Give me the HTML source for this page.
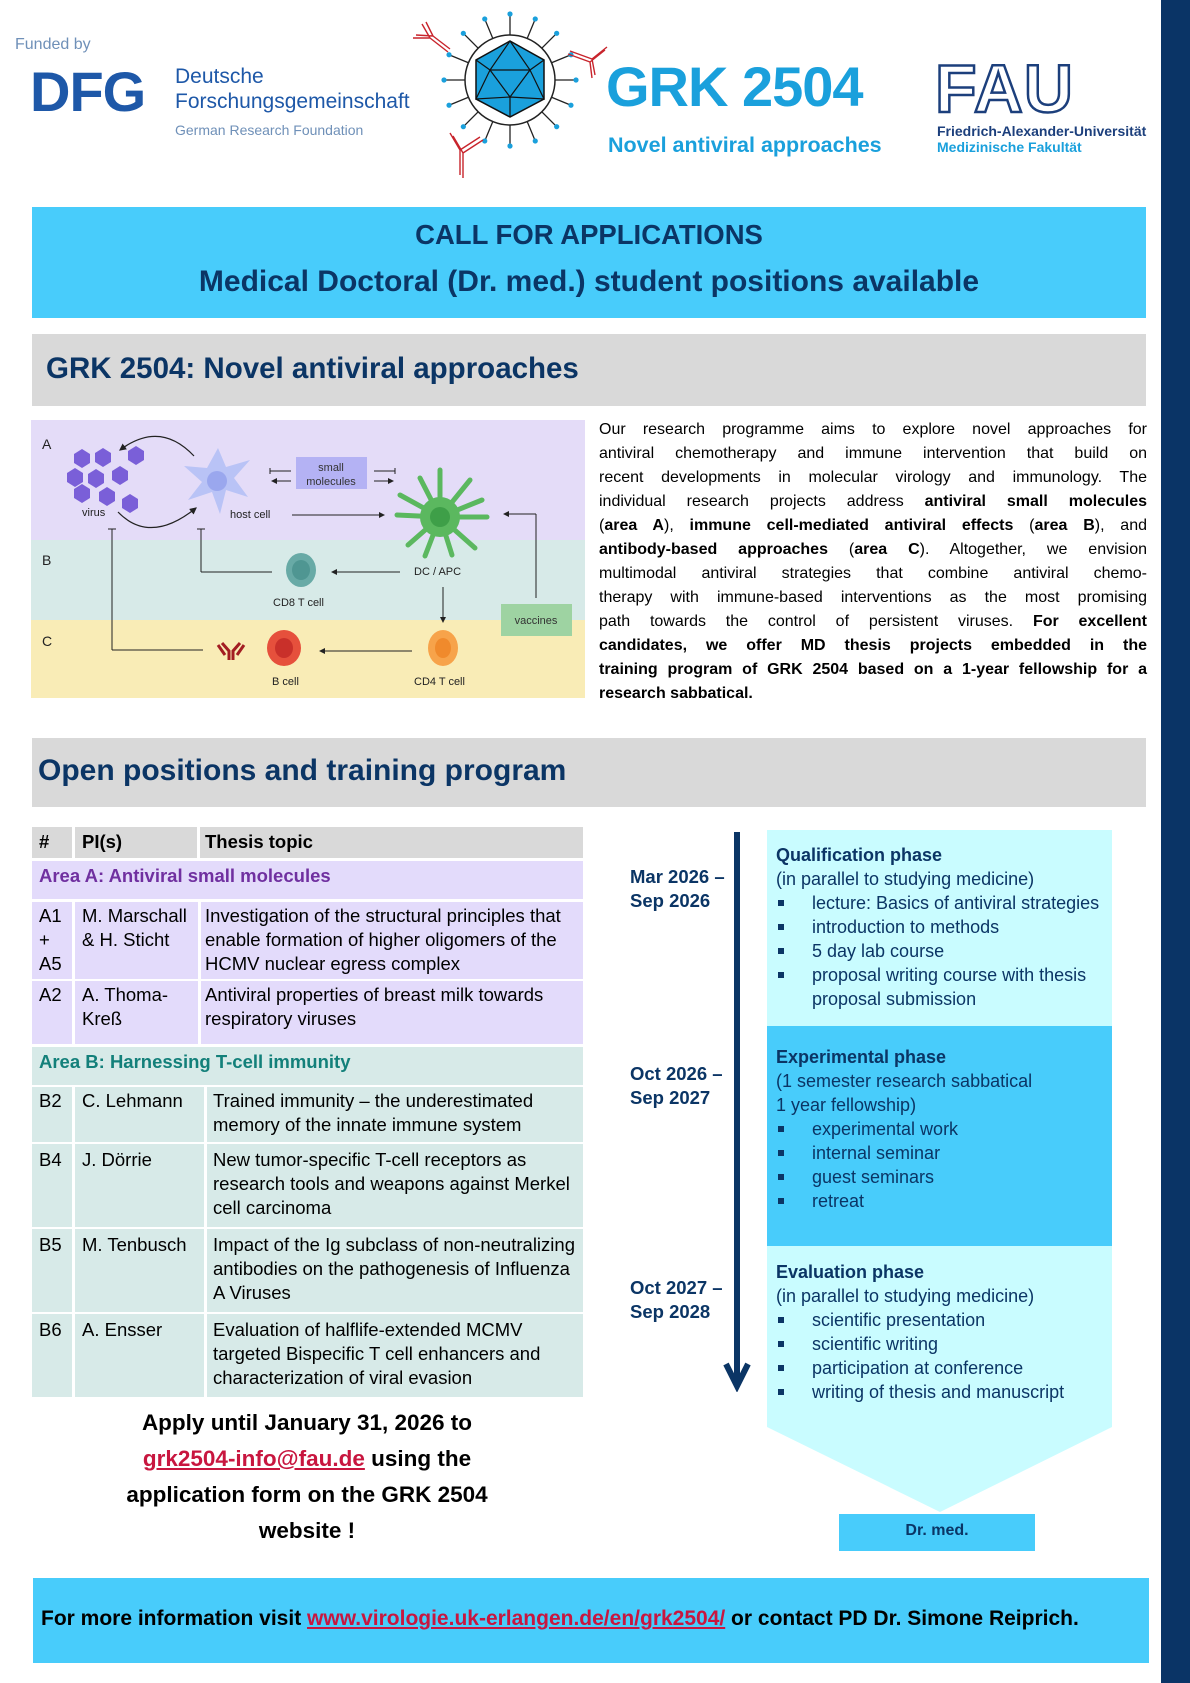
<!DOCTYPE html>
<html><head><meta charset="utf-8">
<style>
*{margin:0;padding:0;box-sizing:border-box}
body{width:1190px;height:1683px;position:relative;background:#fff;font-family:"Liberation Sans",sans-serif;color:#000;overflow:hidden}
.a{position:absolute;white-space:nowrap}
.navy{color:#0b3565}
.b{font-weight:bold}
.row{position:absolute;left:32px;width:551px}
.c{position:absolute;top:0;bottom:0;border-right:3px solid #fff}
.t{position:absolute;font-size:18.5px;line-height:24px;white-space:nowrap}
.pl{position:absolute;left:599px;width:548px;font-size:16px;line-height:24px;text-align:justify;text-align-last:justify;white-space:nowrap;height:24px;overflow:visible}
.ph{position:absolute;left:776px;font-size:18px;line-height:24px;color:#0b3565;white-space:nowrap}
.bl{position:absolute;left:778px;width:6px;height:6px;background:#0b3565}
</style></head><body>

<div style="position:absolute;left:1161px;top:0;width:29px;height:1683px;background:#0a3466"></div>

<!-- DFG logo -->
<div class="a" style="left:15px;top:36px;font-size:16px;color:#6f90b8">Funded by</div>
<div class="a" style="left:30px;top:64px;font-size:56px;font-weight:bold;color:#1e58a8;letter-spacing:-1px;line-height:56px">DFG</div>
<div class="a" style="left:175px;top:64px;font-size:21px;color:#1e58a8;line-height:25px">Deutsche<br>Forschungsgemeinschaft</div>
<div class="a" style="left:175px;top:122px;font-size:14px;color:#6f90b8">German Research Foundation</div>

<!-- virus logo -->
<svg style="position:absolute;left:380px;top:0" width="230" height="180" viewBox="380 0 230 180">
<g stroke="#222" stroke-width="1.3" fill="#1aa0dc">
<g id="sp">
<line x1="510" y1="35" x2="510" y2="14"/><circle cx="510" cy="14" r="2.6" stroke="none"/>
</g>
<use href="#sp" transform="rotate(22.5 510 80)"/><use href="#sp" transform="rotate(45 510 80)"/><use href="#sp" transform="rotate(67.5 510 80)"/>
<use href="#sp" transform="rotate(90 510 80)"/><use href="#sp" transform="rotate(112.5 510 80)"/><use href="#sp" transform="rotate(135 510 80)"/><use href="#sp" transform="rotate(157.5 510 80)"/>
<use href="#sp" transform="rotate(180 510 80)"/><use href="#sp" transform="rotate(202.5 510 80)"/><use href="#sp" transform="rotate(225 510 80)"/><use href="#sp" transform="rotate(247.5 510 80)"/>
<use href="#sp" transform="rotate(270 510 80)"/><use href="#sp" transform="rotate(292.5 510 80)"/><use href="#sp" transform="rotate(315 510 80)"/><use href="#sp" transform="rotate(337.5 510 80)"/>
</g>
<circle cx="510" cy="80" r="45" fill="#fff" stroke="#222" stroke-width="1.5"/>
<polygon points="510,41 544,60 544,99 510,117 476,99 476,60" fill="#1aa0dc" stroke="#111" stroke-width="1.5"/>
<g stroke="#111" stroke-width="1.2" fill="none">
<polyline points="510,41 490,70 476,99 510,97 544,99 530,70 510,41"/>
<line x1="490" y1="70" x2="530" y2="70"/><line x1="490" y1="70" x2="510" y2="97"/><line x1="530" y1="70" x2="510" y2="97"/><line x1="510" y1="97" x2="510" y2="117"/><line x1="476" y1="60" x2="490" y2="70"/><line x1="544" y1="60" x2="530" y2="70"/>
</g>
<g stroke="#c8242c" stroke-width="1.4" fill="none">
<path d="M448 52 L430 38 M430 38 L413 38 M430 38 L422 24 M450 49 L433 36 M433 36 L416 35 M433 36 L426 22"/>
<path d="M568 54 L590 62 M590 62 L605 50 M590 62 L592 78 M570 51 L592 59 M592 59 L607 47 M592 59 L595 75"/>
<path d="M480 137 L460 150 M460 150 L460 175 M460 150 L450 133 M483 140 L463 153 M463 153 L463 178 M463 153 L453 136"/>
</g>
</svg>
<div class="a" style="left:606px;top:52px;font-size:56px;font-weight:bold;color:#1aa0dc;line-height:70px;letter-spacing:-1px">GRK 2504</div>
<div class="a" style="left:608px;top:133px;font-size:21.5px;font-weight:bold;color:#1aa0dc">Novel antiviral approaches</div>

<!-- FAU -->
<div class="a" style="left:935px;top:58px;font-size:68px;font-weight:bold;color:#fff;-webkit-text-stroke:2.5px #1c3f7c;line-height:62px;letter-spacing:1px">FAU</div>
<div class="a" style="left:937px;top:123px;font-size:14px;font-weight:bold;color:#1c3f7c">Friedrich-Alexander-Universität</div>
<div class="a" style="left:937px;top:139px;font-size:14px;font-weight:bold;color:#1aa0dc">Medizinische Fakultät</div>

<!-- call box -->
<div style="position:absolute;left:32px;top:207px;width:1114px;height:111px;background:#48ccfb"></div>
<div class="a navy b" style="left:32px;width:1114px;text-align:center;top:219px;font-size:27.5px">CALL FOR APPLICATIONS</div>
<div class="a navy b" style="left:32px;width:1114px;text-align:center;top:265px;font-size:30px">Medical Doctoral (Dr. med.) student positions available</div>

<!-- header 1 -->
<div style="position:absolute;left:32px;top:334px;width:1114px;height:72px;background:#d9d9d9"></div>
<div class="a navy b" style="left:46px;top:352px;font-size:29.5px">GRK 2504: Novel antiviral approaches</div>

<!-- figure -->
<svg style="position:absolute;left:31px;top:420px" width="554" height="278" viewBox="31 420 554 278" font-family="Liberation Sans, sans-serif" font-size="11">
<defs><marker id="ar" markerWidth="6" markerHeight="6" refX="5" refY="3" orient="auto"><path d="M0,0 L6,3 L0,6z" fill="#222"/></marker></defs>
<rect x="31" y="420" width="554" height="120" fill="#e4dcf8"/>
<rect x="31" y="540" width="554" height="80" fill="#d7eae8"/>
<rect x="31" y="620" width="554" height="78" fill="#f9ecb6"/>
<g font-size="14" fill="#222"><text x="42" y="449">A</text><text x="42" y="565">B</text><text x="42" y="646">C</text></g>
<g fill="#7a5fd8">
<polygon points="82,449 90,454 90,463 82,468 74,463 74,454"/>
<polygon points="103,448 111,453 111,462 103,467 95,462 95,453"/>
<polygon points="136,446 144,451 144,460 136,465 128,460 128,451"/>
<polygon points="75,468 83,473 83,482 75,487 67,482 67,473"/>
<polygon points="96,469 104,474 104,483 96,488 88,483 88,474"/>
<polygon points="120,466 128,471 128,480 120,485 112,480 112,471"/>
<polygon points="82,484 90,489 90,498 82,503 74,498 74,489"/>
<polygon points="107,487 115,492 115,501 107,506 99,501 99,492"/>
<polygon points="130,494 138,499 138,508 130,513 122,508 122,499"/>
</g>
<text x="82" y="516" fill="#222">virus</text>
<path d="M194 456 Q160 420 120 450" fill="none" stroke="#222" stroke-width="1.2" marker-end="url(#ar)"/>
<path d="M118 512 Q150 545 196 508" fill="none" stroke="#222" stroke-width="1.2" marker-end="url(#ar)"/>
<path d="M218 448 L226 467 L250 460 L234 478 L248 497 L226 490 L220 514 L212 492 L188 500 L202 482 L184 466 L207 468 Z" fill="#b9c3f6"/>
<circle cx="217" cy="481" r="10" fill="#9aa7ee"/>
<text x="230" y="518" fill="#222">host cell</text>
<rect x="296" y="457" width="71" height="32" fill="#b4b2f4"/>
<text x="331" y="471" text-anchor="middle" fill="#333">small</text>
<text x="331" y="485" text-anchor="middle" fill="#333">molecules</text>
<g stroke="#222" stroke-width="1"><line x1="270" y1="471" x2="291" y2="471"/><line x1="270" y1="468" x2="270" y2="474"/><line x1="374" y1="471" x2="395" y2="471"/><line x1="395" y1="468" x2="395" y2="474"/>
<line x1="291" y1="481" x2="272" y2="481" marker-end="url(#ar)"/><line x1="374" y1="481" x2="393" y2="481" marker-end="url(#ar)"/>
<line x1="292" y1="515" x2="384" y2="515" marker-end="url(#ar)"/>
<line x1="536" y1="598" x2="536" y2="514"/><line x1="536" y1="514" x2="504" y2="514" marker-end="url(#ar)"/>
<line x1="400" y1="572" x2="332" y2="572" marker-end="url(#ar)"/>
<line x1="272" y1="572" x2="201" y2="572"/><line x1="201" y1="572" x2="201" y2="529"/><line x1="197" y1="529" x2="205" y2="529"/>
<line x1="112" y1="650" x2="112" y2="529"/><line x1="108" y1="529" x2="116" y2="529"/><line x1="112" y1="650" x2="203" y2="650"/>
<line x1="443" y1="587" x2="443" y2="622" marker-end="url(#ar)"/>
<line x1="412" y1="651" x2="320" y2="651" marker-end="url(#ar)"/>
</g>
<g stroke="#5bb85f" stroke-width="5" stroke-linecap="round">
<line x1="440" y1="517" x2="440" y2="470"/><line x1="440" y1="517" x2="470" y2="480"/><line x1="440" y1="517" x2="420" y2="478"/><line x1="440" y1="517" x2="487" y2="517"/><line x1="440" y1="517" x2="397" y2="515"/><line x1="440" y1="517" x2="475" y2="548"/><line x1="440" y1="517" x2="408" y2="545"/><line x1="440" y1="517" x2="452" y2="555"/><line x1="440" y1="517" x2="425" y2="556"/><line x1="440" y1="517" x2="400" y2="495"/><line x1="440" y1="517" x2="482" y2="500"/>
</g>
<circle cx="440" cy="517" r="20" fill="#5bb85f"/><circle cx="440" cy="517" r="10" fill="#3e9f48"/>
<text x="414" y="575" fill="#222">DC / APC</text>
<rect x="501" y="604" width="71" height="32" fill="#9ed3a2"/>
<text x="536" y="624" text-anchor="middle" fill="#333">vaccines</text>
<ellipse cx="301" cy="570" rx="15" ry="17" fill="#68aaa6"/><ellipse cx="301" cy="570" rx="9" ry="10" fill="#4f9692"/>
<text x="273" y="606" fill="#222">CD8 T cell</text>
<path d="M229 660 L229 651 L222 643 M233 660 L233 651 L240 643 M225 655 L218 645 M237 655 L244 645" stroke="#a31d22" stroke-width="3" fill="none"/>
<ellipse cx="284" cy="648" rx="17" ry="18" fill="#e6503c"/><ellipse cx="284" cy="648" rx="9" ry="10" fill="#c9302a"/>
<text x="272" y="685" fill="#222">B cell</text>
<ellipse cx="443" cy="648" rx="15" ry="18" fill="#f7a34a"/><ellipse cx="443" cy="648" rx="8" ry="10" fill="#f08a2c"/>
<text x="414" y="685" fill="#222">CD4 T cell</text>
</svg>

<!-- paragraph -->
<div class="pl" style="top:418px">Our research programme aims to explore novel approaches for</div>
<div class="pl" style="top:442px">antiviral chemotherapy and immune intervention that build on</div>
<div class="pl" style="top:466px">recent developments in molecular virology and immunology. The</div>
<div class="pl" style="top:490px">individual research projects address <b>antiviral small molecules</b></div>
<div class="pl" style="top:514px">(<b>area A</b>), <b>immune cell-mediated antiviral effects</b> (<b>area B</b>), and</div>
<div class="pl" style="top:538px"><b>antibody-based approaches</b> (<b>area C</b>). Altogether, we envision</div>
<div class="pl" style="top:562px">multimodal antiviral strategies that combine antiviral chemo-</div>
<div class="pl" style="top:586px">therapy with immune-based interventions as the most promising</div>
<div class="pl" style="top:610px">path towards the control of persistent viruses. <b>For excellent</b></div>
<div class="pl" style="top:634px"><b>candidates, we offer MD thesis projects embedded in the</b></div>
<div class="pl" style="top:658px"><b>training program of GRK 2504 based on a 1-year fellowship for a</b></div>
<div class="pl" style="top:682px;text-align-last:left"><b>research sabbatical.</b></div>

<!-- header 2 -->
<div style="position:absolute;left:32px;top:738px;width:1114px;height:69px;background:#d9d9d9"></div>
<div class="a navy b" style="left:38px;top:754px;font-size:30px">Open positions and training program</div>

<!-- table -->
<div class="row" style="top:827px;height:31px;background:#d9d9d9">
<div class="c" style="left:0;width:43px"></div><div class="c" style="left:43px;width:125px"></div>
<div class="t b" style="left:7px;top:3px">#</div><div class="t b" style="left:50px;top:3px">PI(s)</div><div class="t b" style="left:173px;top:3px">Thesis topic</div></div>
<div class="row" style="top:861px;height:38px;background:#e3dbfb"><div class="t b" style="left:7px;top:3px;color:#7030a0">Area A: Antiviral small molecules</div></div>
<div class="row" style="top:902px;height:77px;background:#e3dbfb">
<div class="c" style="left:0;width:43px"></div><div class="c" style="left:43px;width:126px"></div>
<div class="t" style="left:7px;top:2px">A1<br>+<br>A5</div><div class="t" style="left:50px;top:2px">M. Marschall<br>&amp; H. Sticht</div>
<div class="t" style="left:173px;top:2px">Investigation of the structural principles that<br>enable formation of higher oligomers of the<br>HCMV nuclear egress complex</div></div>
<div class="row" style="top:981px;height:63px;background:#e3dbfb">
<div class="c" style="left:0;width:43px"></div><div class="c" style="left:43px;width:126px"></div>
<div class="t" style="left:7px;top:2px">A2</div><div class="t" style="left:50px;top:2px">A. Thoma-<br>Kreß</div>
<div class="t" style="left:173px;top:2px">Antiviral properties of breast milk towards<br>respiratory viruses</div></div>
<div class="row" style="top:1047px;height:38px;background:#d7eae8"><div class="t b" style="left:7px;top:3px;color:#13807a">Area B: Harnessing T-cell immunity</div></div>
<div class="row" style="top:1087px;height:55px;background:#d7eae8">
<div class="c" style="left:0;width:43px"></div><div class="c" style="left:43px;width:132px"></div>
<div class="t" style="left:7px;top:2px">B2</div><div class="t" style="left:50px;top:2px">C. Lehmann</div>
<div class="t" style="left:181px;top:2px">Trained immunity – the underestimated<br>memory of the innate immune system</div></div>
<div class="row" style="top:1144px;height:83px;background:#d7eae8">
<div class="c" style="left:0;width:43px"></div><div class="c" style="left:43px;width:132px"></div>
<div class="t" style="left:7px;top:4px">B4</div><div class="t" style="left:50px;top:4px">J. Dörrie</div>
<div class="t" style="left:181px;top:4px">New tumor-specific T-cell receptors as<br>research tools and weapons against Merkel<br>cell carcinoma</div></div>
<div class="row" style="top:1229px;height:83px;background:#d7eae8">
<div class="c" style="left:0;width:43px"></div><div class="c" style="left:43px;width:132px"></div>
<div class="t" style="left:7px;top:4px">B5</div><div class="t" style="left:50px;top:4px">M. Tenbusch</div>
<div class="t" style="left:181px;top:4px">Impact of the Ig subclass of non-neutralizing<br>antibodies on the pathogenesis of Influenza<br>A Viruses</div></div>
<div class="row" style="top:1314px;height:83px;background:#d7eae8">
<div class="c" style="left:0;width:43px"></div><div class="c" style="left:43px;width:132px"></div>
<div class="t" style="left:7px;top:4px">B6</div><div class="t" style="left:50px;top:4px">A. Ensser</div>
<div class="t" style="left:181px;top:4px">Evaluation of halflife-extended MCMV<br>targeted Bispecific T cell enhancers and<br>characterization of viral evasion</div></div>

<!-- apply -->
<div class="a b" style="left:87px;width:440px;text-align:center;top:1405px;font-size:22.5px;line-height:36px">Apply until January 31, 2026 to<br><span style="color:#c8163f;text-decoration:underline">grk2504-info@fau.de</span> using the<br>application form on the GRK 2504<br>website !</div>

<!-- timeline -->
<div style="position:absolute;left:767px;top:830px;width:345px;height:196px;background:#c9fcff"></div>
<div style="position:absolute;left:767px;top:1026px;width:345px;height:220px;background:#48ccfb"></div>
<svg style="position:absolute;left:767px;top:1246px" width="345" height="268"><polygon points="0,0 345,0 345,181 173,266 0,181" fill="#c9fcff"/></svg>
<div style="position:absolute;left:839px;top:1514px;width:196px;height:37px;background:#48ccfb"></div>
<div class="a navy b" style="left:839px;width:196px;text-align:center;top:1522px;font-size:16px">Dr. med.</div>

<div style="position:absolute;left:734px;top:832px;width:6px;height:552px;background:#0b3565"></div>
<svg style="position:absolute;left:722px;top:1358px" width="32" height="34"><polyline points="4,6 15,28 26,6" fill="none" stroke="#0b3565" stroke-width="6" stroke-linejoin="miter"/></svg>

<div class="a navy b" style="left:630px;top:865px;font-size:18.5px;line-height:24px">Mar 2026 –<br>Sep 2026</div>
<div class="a navy b" style="left:630px;top:1062px;font-size:18.5px;line-height:24px">Oct 2026 –<br>Sep 2027</div>
<div class="a navy b" style="left:630px;top:1276px;font-size:18.5px;line-height:24px">Oct 2027 –<br>Sep 2028</div>

<div class="ph" style="top:843px"><b>Qualification phase</b><br>(in parallel to studying medicine)</div>
<div class="ph" style="left:812px;top:891px">lecture: Basics of antiviral strategies<br>introduction to methods<br>5 day lab course<br>proposal writing course with thesis<br>proposal submission</div>
<div class="bl" style="top:900px"></div><div class="bl" style="top:924px"></div><div class="bl" style="top:948px"></div><div class="bl" style="top:972px"></div>

<div class="ph" style="top:1045px"><b>Experimental phase</b><br>(1 semester research sabbatical<br>1 year fellowship)</div>
<div class="ph" style="left:812px;top:1117px">experimental work<br>internal seminar<br>guest seminars<br>retreat</div>
<div class="bl" style="top:1126px"></div><div class="bl" style="top:1150px"></div><div class="bl" style="top:1174px"></div><div class="bl" style="top:1198px"></div>

<div class="ph" style="top:1260px"><b>Evaluation phase</b><br>(in parallel to studying medicine)</div>
<div class="ph" style="left:812px;top:1308px">scientific presentation<br>scientific writing<br>participation at conference<br>writing of thesis and manuscript</div>
<div class="bl" style="top:1317px"></div><div class="bl" style="top:1341px"></div><div class="bl" style="top:1365px"></div><div class="bl" style="top:1389px"></div>

<!-- footer -->
<div style="position:absolute;left:33px;top:1578px;width:1116px;height:85px;background:#48ccfb"></div>
<div class="a b" style="left:41px;top:1607px;font-size:21px">For more information visit <span style="color:#c8163f;text-decoration:underline">www.virologie.uk-erlangen.de/en/grk2504/</span> or contact PD Dr. Simone Reiprich.</div>
</body></html>
